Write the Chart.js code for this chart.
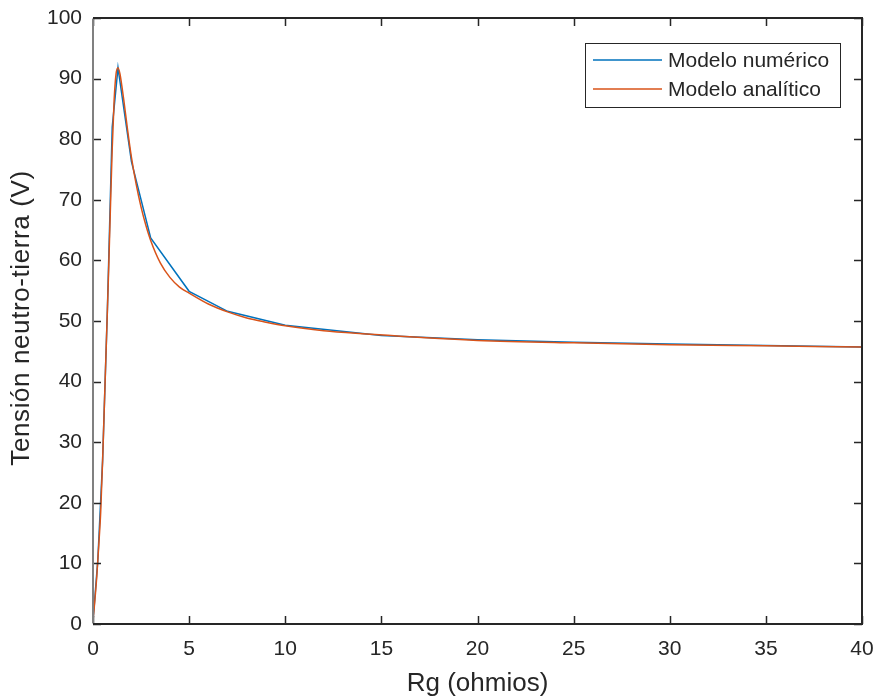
<!DOCTYPE html>
<html>
<head>
<meta charset="utf-8">
<script src="https://cdn.jsdelivr.net/npm/chart.js@4/dist/chart.umd.min.js"></script>
<style>
  html, body { margin: 0; padding: 0; background: #ffffff; }
  #wrap { width: 875px; height: 697px; position: relative; }
</style>
</head>
<body>
<div id="wrap"><canvas id="c" width="875" height="697"></canvas></div>
<script>
// Rg in ohms (x) and neutral-to-ground voltage in volts (y)
const numericRg = [0, 0.25, 0.5, 0.75, 1, 1.3, 2, 3, 5, 7, 10, 15, 20, 25, 30, 35, 40];
const numericV  = [0.5, 10.5, 27, 52, 82, 91.8, 76.3, 63.7, 54.9, 51.6, 49.3, 47.6, 46.9, 46.5, 46.2, 45.95, 45.7];

const analyticRg = [0, 0.1, 0.2, 0.3, 0.4, 0.5, 0.6, 0.7, 0.8, 0.9, 1.0, 1.1, 1.2, 1.3, 1.4, 1.5, 1.6, 1.8,
                    2, 2.25, 2.5, 2.75, 3, 3.5, 4, 4.5, 5, 6, 7, 8, 9, 10, 12, 14, 16, 18, 20, 25, 30, 35, 40];
const analyticV  = [0.5, 4, 8, 13, 18.5, 27, 37, 47, 57, 68, 78.5, 86.5, 90.8, 91.8, 90.8, 88.8, 86.5, 81.5,
                    77, 72.5, 68.8, 65.8, 63.3, 59.6, 57.2, 55.6, 54.6, 52.8, 51.5, 50.5, 49.8, 49.2, 48.4, 47.9, 47.5, 47.1,
                    46.8, 46.4, 46.1, 45.9, 45.7];

const seriesNames = ['Modelo numérico', 'Modelo analítico'];
const xTicks = [0, 5, 10, 15, 20, 25, 30, 35, 40];
const yTicks = [0, 10, 20, 30, 40, 50, 60, 70, 80, 90, 100];
const xTitle = 'Rg (ohmios)';
const yTitle = 'Tensión neutro-tierra (V)';

const AXIS = '#262626';
const FONT = '"Liberation Sans", Arial, Helvetica, sans-serif';

const toPoints = (xs, ys) => xs.map((x, i) => ({ x: x, y: ys[i] }));

// Box around the plot with inward tick marks on all four sides, axis titles and legend
const framePlugin = {
  id: 'frame',
  afterDraw(chart) {
    const { ctx, chartArea: a, scales } = chart;
    const xs = scales.x, ys = scales.y;
    const tl = 8;
    ctx.save();
    ctx.lineCap = 'butt';
    ctx.strokeStyle = AXIS;
    ctx.lineWidth = 1.5;
    ctx.beginPath();
    xs.ticks.forEach(t => {
      const px = Math.round(xs.getPixelForValue(t.value)) + 0.5;
      ctx.moveTo(px, a.bottom); ctx.lineTo(px, a.bottom - tl);
      ctx.moveTo(px, a.top); ctx.lineTo(px, a.top + tl);
    });
    ys.ticks.forEach(t => {
      const py = Math.round(ys.getPixelForValue(t.value)) + 0.5;
      ctx.moveTo(a.left, py); ctx.lineTo(a.left + tl, py);
      ctx.moveTo(a.right, py); ctx.lineTo(a.right - tl, py);
    });
    ctx.stroke();
    ctx.lineWidth = 2;
    ctx.beginPath();
    ctx.moveTo(a.left, a.top); ctx.lineTo(a.right, a.top);
    ctx.lineTo(a.right, a.bottom); ctx.lineTo(a.left, a.bottom);
    ctx.stroke();
    ctx.strokeStyle = '#808080';
    ctx.beginPath();
    ctx.moveTo(a.left, a.top + 1); ctx.lineTo(a.left, a.bottom - 1);
    ctx.stroke();

    // axis titles
    ctx.fillStyle = AXIS;
    ctx.textAlign = 'center';
    ctx.textBaseline = 'middle';
    ctx.font = '26px ' + FONT;
    ctx.fillText(xTitle, (a.left + a.right) / 2, 684);
    ctx.save();
    ctx.translate(22, (a.top + a.bottom) / 2 - 3);
    ctx.rotate(-Math.PI / 2);
    ctx.letterSpacing = '0.6px';
    ctx.fillText(yTitle, 0, 0);
    ctx.restore();

    // legend
    const bx = 585.5, by = 43.5, bw = 255, bh = 64;
    ctx.fillStyle = '#ffffff';
    ctx.fillRect(bx, by, bw, bh);
    ctx.strokeStyle = AXIS;
    ctx.lineWidth = 1;
    ctx.strokeRect(bx, by, bw, bh);
    ctx.font = '21px ' + FONT;
    ctx.textBaseline = 'middle';
    ctx.textAlign = 'left';
    const rows = [60, 89];
    chart.data.datasets.forEach((ds, i) => {
      ctx.strokeStyle = ds.borderColor;
      ctx.lineWidth = 1.5;
      ctx.beginPath();
      ctx.moveTo(593, rows[i]); ctx.lineTo(662, rows[i]);
      ctx.stroke();
      ctx.fillStyle = AXIS;
      ctx.fillText(ds.label, 668, rows[i] + 1);
    });
    ctx.restore();
  }
};

new Chart(document.getElementById('c'), {
  type: 'line',
  data: {
    datasets: [
      {
        label: seriesNames[0],
        data: toPoints(numericRg, numericV),
        borderColor: '#0072BD',
        borderWidth: 1.5,
        pointRadius: 0,
        tension: 0,
        order: 1
      },
      {
        label: seriesNames[1],
        data: toPoints(analyticRg, analyticV),
        borderColor: '#D95319',
        borderWidth: 1.5,
        pointRadius: 0,
        cubicInterpolationMode: 'monotone',
        order: 0
      }
    ]
  },
  options: {
    responsive: false,
    animation: false,
    events: [],
    layout: { padding: { top: 18, right: 13, left: 0, bottom: 0 } },
    plugins: { legend: { display: false }, tooltip: { enabled: false } },
    scales: {
      x: {
        type: 'linear',
        min: 0, max: 40,
        afterBuildTicks: s => { s.ticks = xTicks.map(v => ({ value: v })); },
        afterFit: s => { s.height = 73; s.paddingLeft = 0; s.paddingRight = 0; },
        grid: { display: false, drawTicks: false },
        border: { display: false },
        ticks: { color: AXIS, font: { family: FONT, size: 21 }, padding: 13, maxRotation: 0, autoSkip: false }
      },
      y: {
        type: 'linear',
        min: 0, max: 100,
        afterBuildTicks: s => { s.ticks = yTicks.map(v => ({ value: v })); },
        afterFit: s => { s.width = 93; s.paddingTop = 0; s.paddingBottom = 0; },
        grid: { display: false, drawTicks: false },
        border: { display: false },
        ticks: { color: AXIS, font: { family: FONT, size: 21 }, padding: 11, autoSkip: false }
      }
    }
  },
  plugins: [framePlugin]
});
</script>
</body>
</html>
